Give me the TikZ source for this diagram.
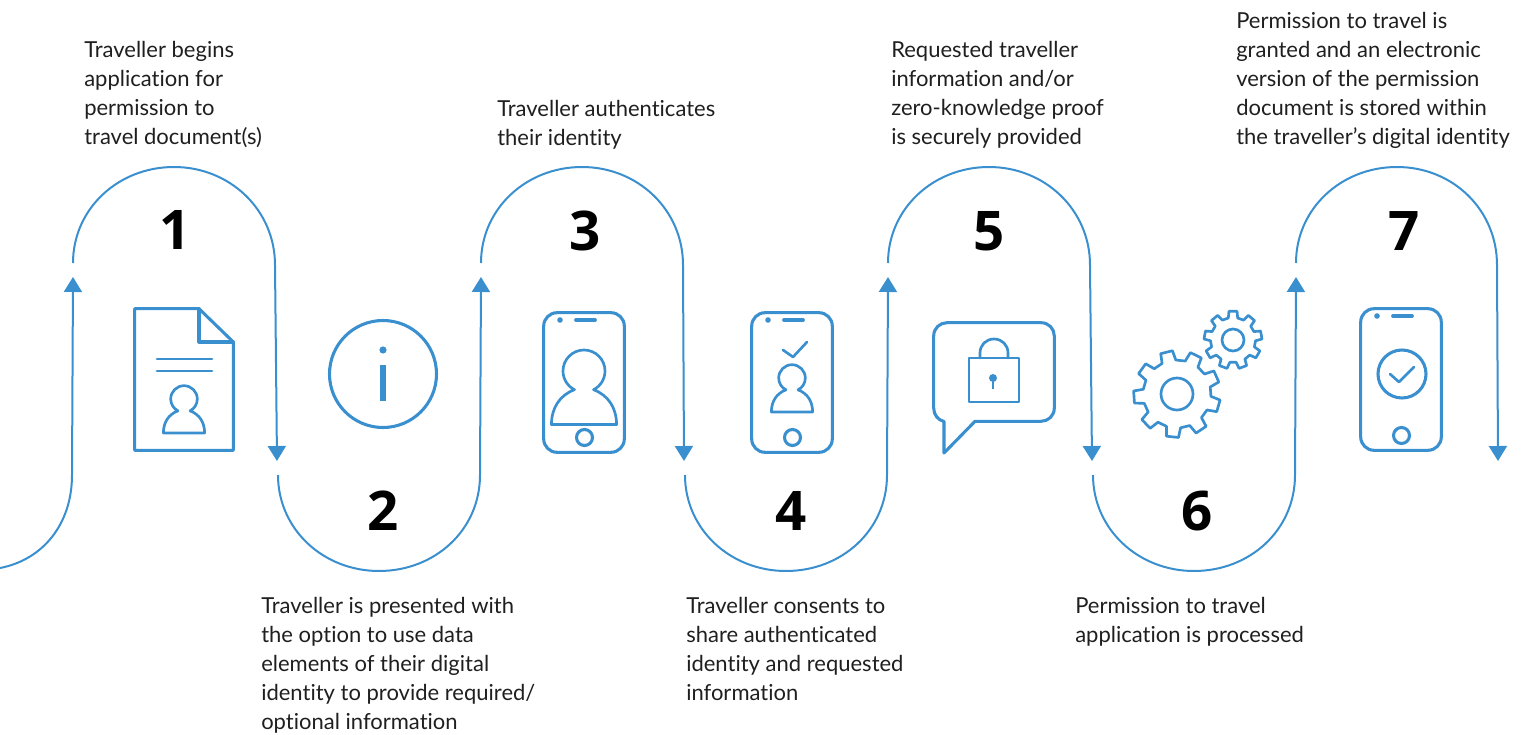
\documentclass[tikz,border=0pt]{standalone}
\usepackage{fontspec}
\setmainfont[Ligatures=NoCommon]{Lato}
\newfontfamily\digitfont{Open Sans}
\usetikzlibrary{arrows.meta}
\definecolor{flow}{RGB}{58,143,207}
\tikzset{
  wire/.style={draw=flow,line width=1.5pt,-{Triangle[width=13.5pt,length=11.25pt]}},
  icon/.style={draw=flow,line width=2.3pt,line join=round,line cap=round},
  iconthin/.style={draw=flow,line width=2pt,line join=round,line cap=round},
  step label/.style={inner sep=0pt,font=\fontsize{41}{41}\selectfont\digitfont\bfseries,text=black,anchor=center},
  caption/.style={inner sep=0pt,anchor=north west,align=left,font=\fontsize{16.5}{21.75}\selectfont,text=black!88}
}
\newcommand{\person}[3]{% x y r
  \begin{scope}[shift={(#1,#2)},x=#3*0.75pt,y=-#3*0.75pt]
  \draw[iconthin] (-1.55,2.55) -- (1.55,2.55)
    .. controls (1.55,1.75) and (1.15,1.15) .. (.454,.891)
    .. controls (.789,.72) and (1,.376) .. (1,0)
    .. controls (1,-.552) and (.552,-1) .. (0,-1)
    .. controls (-.552,-1) and (-1,-.552) .. (-1,0)
    .. controls (-1,.376) and (-.789,.72) .. (-.454,.891)
    .. controls (-1.15,1.15) and (-1.55,1.75) .. (-1.55,2.55) -- cycle;
  \end{scope}}
\newcommand{\phone}[4]{% x0 y0 x1 y1
  \draw[icon,rounded corners=10pt] (#1+0.7,#2+0.7) rectangle (#3-0.7,#4-0.7);
  \fill[flow] (#1+17,#2+8) circle[radius=2.8];
  \draw[draw=flow,line width=2.8pt,line cap=round] (#1+33,#2+8) -- (#1+52,#2+8);
  \draw[icon] (#1+41.5,#4-15.5) circle[radius=8];
}
\newcommand{\gear}[7]{% x y outer root inner nteeth start
  \begin{scope}[shift={(#1,#2)}]
  \pgfmathsetmacro{\gs}{360/#6}
  \draw[iconthin] (#7-0.30*\gs:#4)
    \foreach \k in {1,...,#6}{
      \pgfextra{\pgfmathsetmacro{\ga}{#7+(\k-1)*\gs}}
      -- (\ga-0.30*\gs:#4) -- (\ga-0.20*\gs:#3) -- (\ga+0.20*\gs:#3) -- (\ga+0.30*\gs:#4)
    } -- cycle;
  \draw[iconthin] (0,0) circle[radius=#5];
  \end{scope}}
\begin{document}
\begin{tikzpicture}[x=0.75pt,y=-0.75pt]
\useasboundingbox (0,0) rectangle (1529,735);

% connectors
\coordinate (e0) at (0,568);
\coordinate (a1) at (73,277);
\coordinate (s1) at (73,263);
\coordinate (a2) at (277,461);
\coordinate (s2) at (278,475);
\coordinate (a3) at (481,277);
\coordinate (s3) at (481,263);
\coordinate (a4) at (684,461);
\coordinate (s4) at (685,475);
\coordinate (a5) at (888,277);
\coordinate (s5) at (888,263);
\coordinate (a6) at (1092,461);
\coordinate (s6) at (1093,475);
\coordinate (a7) at (1296,277);
\coordinate (s7) at (1296,263);
\coordinate (a8) at (1498,461);

\draw[wire] (e0) .. controls +(42,-8) and (72,525) .. (72,475) -- (a1);
\draw[wire] (s1) .. controls +(0,-54) and (118,167) .. (174,167) .. controls (230,167) and (275,210) .. (275,265) -- (a2);
\draw[wire] (s2) .. controls +(0,54) and (323,571) .. (379,571) .. controls (435,571) and (480,530) .. (480,475) -- (a3);
\draw[wire] (s3) .. controls +(0,-54) and (526,167) .. (582,167) .. controls (638,167) and (683,210) .. (683,265) -- (a4);
\draw[wire] (s4) .. controls +(0,54) and (730,571) .. (786,571) .. controls (842,571) and (887,530) .. (887,475) -- (a5);
\draw[wire] (s5) .. controls +(0,-54) and (933,167) .. (989,167) .. controls (1045,167) and (1090,210) .. (1090,265) -- (a6);
\draw[wire] (s6) .. controls +(0,54) and (1138,571) .. (1194,571) .. controls (1250,571) and (1295,530) .. (1295,475) -- (a7);
\draw[wire] (s7) .. controls +(0,-54) and (1341,167) .. (1397,167) .. controls (1453,167) and (1497,210) .. (1497,265) -- (a8);

% numbers
\node[step label] (n1) at (175,230) {1};
\node[step label] (n2) at (383,511) {2};
\node[step label] (n3) at (585,231) {3};
\node[step label] (n4) at (791,511) {4};
\node[step label] (n5) at (989,231) {5};
\node[step label] (n6) at (1197,511) {6};
\node[step label] (n7) at (1404,231) {7};

% captions
\node[caption] (c1) at (84,41) {Traveller begins\\application for\\permission to\\travel document(s)};
\node[caption] (c2) at (261,597) {Traveller is presented with\\the option to use data\\elements of their digital\\identity to provide required/\\optional information};
\node[caption] (c3) at (497,100) {Traveller authenticates\\their identity};
\node[caption] (c4) at (686,597) {Traveller consents to\\share authenticated\\identity and requested\\information};
\node[caption] (c5) at (891,41) {Requested traveller\\information and/or\\zero-knowledge proof\\is securely provided};
\node[caption] (c6) at (1075,597) {Permission to travel\\application is processed};
\node[caption] (c7) at (1236,12) {Permission to travel is\\granted and an electronic\\version of the permission\\document is stored within\\the traveller’s digital identity};

% icon 1: document
\draw[icon] (134.7,308.7) -- (199,308.7) -- (233.3,342) -- (233.3,450.3) -- (134.7,450.3) -- cycle;
\draw[icon] (199,308.7) -- (199,342) -- (233.3,342);
\draw[iconthin] (157,359) -- (212,359) (157,371) -- (212,371);
\person{184}{399}{13.3}

% icon 2: info
\draw[icon] (383,374) circle[radius=53.5];
\fill[flow] (383,350) circle[radius=3.6];
\draw[draw=flow,line width=3.8pt] (383,365) -- (383,401);

% icon 3
\phone{543}{312}{625}{453}
\person{584}{371}{21}

% icon 4
\phone{751}{312}{833}{453}
\draw[iconthin] (783,350) -- (793,357) -- (807,342);
\person{792}{378}{13.3}

% icon 5
\draw[icon] (944,453) -- (944,421.5) .. controls (938,420) and (933.7,415) .. (933.7,408) -- (933.7,336) .. controls (933.7,328) and (940,322.7) .. (947,322.7) -- (1041,322.7) .. controls (1049,322.7) and (1054.3,329) .. (1054.3,336) -- (1054.3,408) .. controls (1054.3,416) and (1048,421.3) .. (1041,421.3) -- (975,421.3) -- cycle;
\draw[iconthin] (969,358) rectangle (1019,402);
\draw[iconthin] (980,358) -- (980,353) .. controls (980,345) and (986,339) .. (994,339) .. controls (1002,339) and (1008,345) .. (1008,353) -- (1008,358);
\fill[flow] (993,378) circle[radius=4];
\draw[draw=flow,line width=2pt] (993,378) -- (993,389);

% icon 6: gears
\gear{1177}{394}{43.5}{34}{16}{9}{-104}
\gear{1233}{340}{29}{22.5}{11}{9}{-90}

% icon 7
\phone{1360}{308}{1442}{451}
\draw[icon] (1402,374) circle[radius=24];
\draw[iconthin] (1390,374) -- (1399,382) -- (1414,367);
\end{tikzpicture}
\end{document}
